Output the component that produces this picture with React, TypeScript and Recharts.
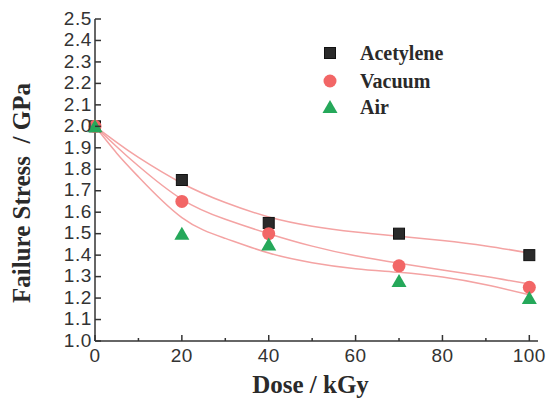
import React from 'react';
import { ComposedChart, Line, Scatter, XAxis, YAxis } from 'recharts';

const doses = [0, 20, 40, 70, 100];
const acetylene = [2.0, 1.75, 1.55, 1.5, 1.4];
const vacuum = [2.0, 1.65, 1.5, 1.35, 1.25];
const air = [2.0, 1.5, 1.45, 1.28, 1.2];

const fitDoses = [0, 5, 10, 20, 30, 40, 50, 60, 70, 80, 90, 100];
const fitAcetylene = [2.0, 1.925, 1.855, 1.735, 1.645, 1.578, 1.535, 1.508, 1.488, 1.468, 1.443, 1.41];
const fitVacuum = [2.0, 1.905, 1.815, 1.66, 1.567, 1.5, 1.442, 1.397, 1.362, 1.331, 1.3, 1.265];
const fitAir = [2.0, 1.875, 1.765, 1.575, 1.478, 1.41, 1.365, 1.337, 1.32, 1.298, 1.262, 1.215];

const xTicks = [0, 10, 20, 30, 40, 50, 60, 70, 80, 90, 100];
const xLabelTicks = [0, 20, 40, 60, 80, 100];
const yTicks = [1.0, 1.1, 1.2, 1.3, 1.4, 1.5, 1.6, 1.7, 1.8, 1.9, 2.0, 2.1, 2.2, 2.3, 2.4, 2.5];

const seriesNames = ['Acetylene', 'Vacuum', 'Air'];
const xTitle = 'Dose / kGy';
const yTitle = 'Failure Stress  / GPa';

const toPts = (xs: number[], ys: number[]) => xs.map((x, i) => ({ x, y: ys[i] }));

const COLORS = {
  square: '#2a2a2a',
  circle: '#F26666',
  triangle: '#25A85A',
  fit: '#F4A3A3',
  axis: '#333333',
  text: '#333333',
};

const tickFont = "'Liberation Sans', Arial, sans-serif";
const titleFont = "'Liberation Serif', 'Times New Roman', serif";

const SquareShape = (props: any) => {
  const { cx, cy } = props;
  if (cx == null || cy == null) return null;
  return <rect x={cx - 5.5} y={cy - 5.5} width={11} height={11} fill={COLORS.square} stroke="#111" strokeWidth={1} />;
};
const CircleShape = (props: any) => {
  const { cx, cy } = props;
  if (cx == null || cy == null) return null;
  return <circle cx={cx} cy={cy} r={6.5} fill={COLORS.circle} />;
};
const TriangleShape = (props: any) => {
  const { cx, cy } = props;
  if (cx == null || cy == null) return null;
  return <polygon points={`${cx},${cy - 7} ${cx + 7.5},${cy + 6} ${cx - 7.5},${cy + 6}`} fill={COLORS.triangle} />;
};

const X_MARGIN = 8;

const XTick = (props: any) => {
  const { x, y, payload } = props;
  const v = payload.value;
  const major = xLabelTicks.includes(v);
  const axisY = y - X_MARGIN;
  return (
    <g>
      <line x1={x} x2={x} y1={axisY} y2={axisY - (major ? 6 : 3)} stroke={COLORS.axis} strokeWidth={1.5} />
      {major && (
        <text x={x} y={y} dy="0.71em" textAnchor="middle" fontFamily={tickFont} fontSize={19} fill={COLORS.text} letterSpacing={0.5}>
          {v}
        </text>
      )}
    </g>
  );
};

const YTick = (props: any) => {
  const { x, y, payload } = props;
  const axisX = x + 3;
  return (
    <g>
      <line x1={axisX} x2={axisX + 6} y1={y} y2={y} stroke={COLORS.axis} strokeWidth={1.5} />
      <text x={x} y={y} dy="0.3em" textAnchor="end" fontFamily={tickFont} fontSize={19} fill={COLORS.text} letterSpacing={0.6}>
        {Number(payload.value).toFixed(1)}
      </text>
    </g>
  );
};

const LegendBox = () => {
  const rows = [
    { name: seriesNames[0], Shape: SquareShape, cy: 53 },
    { name: seriesNames[1], Shape: CircleShape, cy: 81 },
    { name: seriesNames[2], Shape: TriangleShape, cy: 107 },
  ];
  return (
    <svg width={180} height={120} style={{ position: 'absolute', left: 300, top: 20, overflow: 'visible' }}>
      {rows.map((r) => (
        <g key={r.name}>
          <r.Shape cx={30} cy={r.cy - 20} />
          <text x={60} y={r.cy - 20} dy="0.33em" fontFamily={titleFont} fontWeight="bold" fontSize={20} fill="#2a2a2a">
            {r.name}
          </text>
        </g>
      ))}
    </svg>
  );
};

export default function App() {
  return (
    <div style={{ position: 'absolute', left: 0, top: 0, width: 546, height: 398, background: '#fff' }}>
      <ComposedChart width={546} height={398} margin={{ top: 19, right: 8, left: 0, bottom: 0 }}>
        <XAxis
          xAxisId="main"
          type="number"
          dataKey="x"
          domain={[0, 102]}
          ticks={xTicks}
          interval={0}
          height={57}
          tickSize={0}
          tickMargin={X_MARGIN}
          tickLine={false}
          axisLine={{ stroke: COLORS.axis, strokeWidth: 1.5 }}
          tick={<XTick />}
          allowDuplicatedCategory={false}
          label={{
            content: (p: any) => {
              const vb = p.viewBox || {};
              return (
                <text x={vb.x + vb.width / 2 - 6} y={vb.y + 52} textAnchor="middle" fontFamily={titleFont} fontWeight="bold" fontSize={25} fill="#2a2a2a">
                  {xTitle}
                </text>
              );
            },
          }}
        />
        <XAxis xAxisId="top" type="number" orientation="top" domain={[0, 102]} height={0} tick={false} tickLine={false} axisLine={{ stroke: '#8a8a8a', strokeWidth: 1 }} />
        <YAxis
          yAxisId="main"
          type="number"
          domain={[1.0, 2.5]}
          ticks={yTicks}
          interval={0}
          width={95}
          tickSize={0}
          tickMargin={3}
          tickLine={false}
          axisLine={{ stroke: COLORS.axis, strokeWidth: 1.5 }}
          tick={<YTick />}
          label={{
            content: (p: any) => {
              const vb = p.viewBox || {};
              const cx = 30;
              const cy = vb.y + vb.height / 2 + 13;
              return (
                <text x={cx} y={cy} transform={`rotate(-90, ${cx}, ${cy})`} textAnchor="middle" fontFamily={titleFont} fontWeight="bold" fontSize={25} fill="#2a2a2a" style={{ whiteSpace: 'pre' }}>
                  {yTitle}
                </text>
              );
            },
          }}
        />
        <YAxis yAxisId="right" type="number" orientation="right" domain={[1.0, 2.5]} width={0} tick={false} tickLine={false} axisLine={{ stroke: '#555', strokeWidth: 1.2 }} />

        <Line xAxisId="main" yAxisId="main" data={toPts(fitDoses, fitAcetylene)} dataKey="y" type="natural" stroke={COLORS.fit} strokeWidth={1.5} dot={false} activeDot={false} isAnimationActive={false} />
        <Line xAxisId="main" yAxisId="main" data={toPts(fitDoses, fitVacuum)} dataKey="y" type="natural" stroke={COLORS.fit} strokeWidth={1.5} dot={false} activeDot={false} isAnimationActive={false} />
        <Line xAxisId="main" yAxisId="main" data={toPts(fitDoses, fitAir)} dataKey="y" type="natural" stroke={COLORS.fit} strokeWidth={1.5} dot={false} activeDot={false} isAnimationActive={false} />

        <Scatter xAxisId="main" yAxisId="main" name={seriesNames[0]} data={toPts(doses, acetylene)} dataKey="y" shape={<SquareShape />} isAnimationActive={false} />
        <Scatter xAxisId="main" yAxisId="main" name={seriesNames[1]} data={toPts(doses, vacuum)} dataKey="y" shape={<CircleShape />} isAnimationActive={false} />
        <Scatter xAxisId="main" yAxisId="main" name={seriesNames[2]} data={toPts(doses, air)} dataKey="y" shape={<TriangleShape />} isAnimationActive={false} />
      </ComposedChart>
      <LegendBox />
    </div>
  );
}
